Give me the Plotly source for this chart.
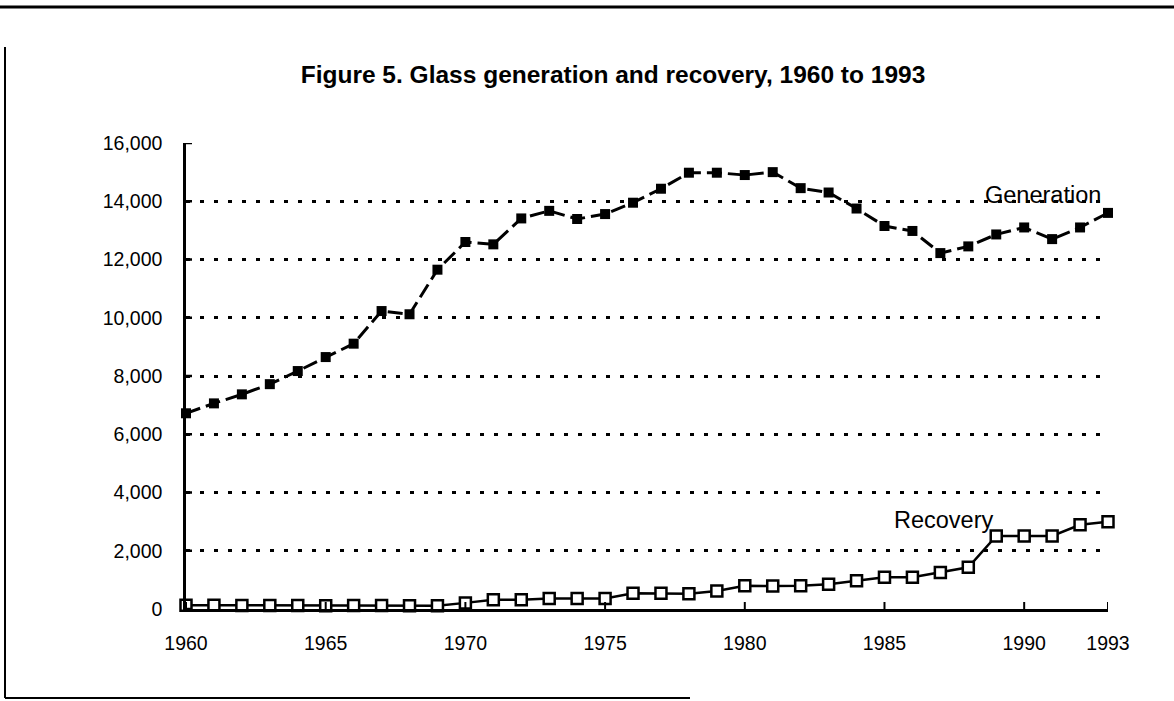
import plotly.graph_objects as go

# Glass in municipal solid waste, thousand tons per year
years = list(range(1960, 1994))
generation = [6720, 7060, 7370, 7720, 8170, 8650, 9110, 10230, 10120, 11650,
              12600, 12520, 13410, 13670, 13390, 13560, 13950, 14430, 14980, 14980,
              14900, 15000, 14450, 14300, 13750, 13150, 12980, 12220, 12450, 12860,
              13100, 12700, 13100, 13600]
recovery = [130, 130, 120, 120, 120, 110, 120, 120, 110, 110,
            210, 320, 320, 360, 360, 360, 540, 540, 520, 620,
            800, 790, 800, 850, 970, 1090, 1090, 1250, 1430, 2510,
            2510, 2510, 2890, 3000]

x_ticks = [1960, 1965, 1970, 1975, 1980, 1985, 1990, 1993]
y_ticks = [0, 2000, 4000, 6000, 8000, 10000, 12000, 14000, 16000]
y_tick_text = ["0", "2,000", "4,000", "6,000", "8,000", "10,000", "12,000", "14,000", "16,000"]

W, H = 1174, 701
L, R, T, B = 186, 66, 143, 92
PW, PH = W - L - R, H - T - B
FONT = "Liberation Sans, Arial, Helvetica, sans-serif"


def px(x):
    return (x - L) / PW


def py(y):
    return (H - B - y) / PH


fig = go.Figure()

fig.add_trace(go.Scatter(
    x=years, y=generation, mode="lines+markers", name="Generation",
    line=dict(color="black", width=3, dash="15px,6px"),
    marker=dict(symbol="square", size=10, color="black", line=dict(width=0)),
    cliponaxis=False, showlegend=False,
))
fig.add_trace(go.Scatter(
    x=years, y=recovery, mode="lines+markers", name="Recovery",
    line=dict(color="black", width=2.5),
    marker=dict(symbol="square", size=11, color="white", line=dict(color="black", width=2.5)),
    cliponaxis=False, showlegend=False,
))

shapes = []
# tick marks crossing both axes
for v in y_ticks:
    shapes.append(dict(type="line", xref="x", xsizemode="pixel", xanchor=1960, x0=-6, x1=6,
                       yref="y", y0=v, y1=v, line=dict(color="black", width=2.5)))
for v in x_ticks:
    shapes.append(dict(type="line", yref="y", ysizemode="pixel", yanchor=0, y0=-7, y1=7,
                       xref="x", x0=v, x1=v, line=dict(color="black", width=2)))
# page frame around the figure
shapes.append(dict(type="line", xref="paper", yref="paper", x0=px(0), x1=px(W), y0=py(7), y1=py(7),
                   line=dict(color="black", width=3)))
shapes.append(dict(type="line", xref="paper", yref="paper", x0=px(5), x1=px(5), y0=py(47), y1=py(698),
                   line=dict(color="black", width=2)))
shapes.append(dict(type="line", xref="paper", yref="paper", x0=px(5), x1=px(690), y0=py(698), y1=py(698),
                   line=dict(color="black", width=2)))

fig.update_layout(
    width=W, height=H,
    margin=dict(l=L, r=R, t=T, b=B, autoexpand=False),
    paper_bgcolor="white", plot_bgcolor="white",
    font=dict(family=FONT, color="black", size=19),
    title=dict(text="<b>Figure 5. Glass generation and recovery, 1960 to 1993</b>",
               x=613 / W, xanchor="center", xref="container",
               y=1 - 74 / H, yanchor="middle", yref="container",
               font=dict(family=FONT, size=24.5, color="black")),
    xaxis=dict(range=[1960, 1993], tickvals=x_ticks, showgrid=False, zeroline=False,
               showline=True, linecolor="black", linewidth=2.5, ticks="",
               ticklabelstandoff=15, tickfont=dict(size=19.5)),
    yaxis=dict(range=[0, 16000], tickvals=y_ticks, ticktext=y_tick_text, zeroline=False,
               showline=True, linecolor="black", linewidth=2.5, ticks="",
               showgrid=True, gridcolor="black", gridwidth=3, griddash="4px,10px",
               ticklabelstandoff=17, tickfont=dict(size=19.5)),
    shapes=shapes,
    annotations=[
        dict(text="Generation", x=1993, y=14230, xref="x", yref="y", xanchor="right", yanchor="middle",
             xshift=-5, showarrow=False, font=dict(size=23.5)),
        dict(text="Recovery", x=1989, y=3070, xref="x", yref="y", xanchor="right", yanchor="middle",
             showarrow=False, font=dict(size=23.5)),
    ],
)

fig.write_html("out.html")
